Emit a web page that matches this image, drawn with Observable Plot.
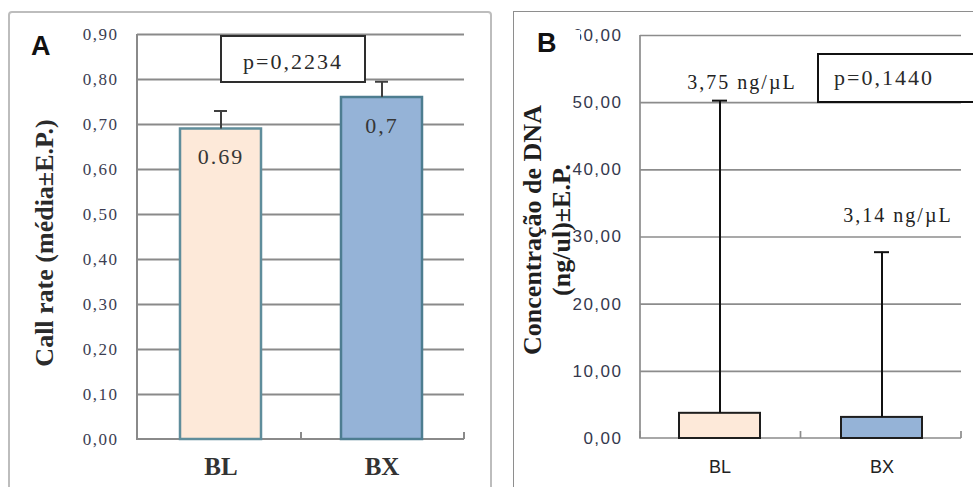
<!DOCTYPE html>
<html>
<head>
<meta charset="utf-8">
<script src="https://cdn.jsdelivr.net/npm/d3@7"></script>
<script src="https://cdn.jsdelivr.net/npm/@observablehq/plot@0.6"></script>
<style>
  body { margin: 0; background: #fff; }
  #chart { position: relative; width: 973px; height: 487px; overflow: hidden; background: #fff; }
  #chart > .panel { position: absolute; top: 0; }
  #panelA { left: 0; }
  #panelB { left: 500px; }
  .frame { position: absolute; box-sizing: border-box; pointer-events: none; }
  #frameA { left: 8px; top: 11px; width: 484px; height: 500px; border: 2px solid #bdbdbd; border-radius: 4px; }
  #frameB { left: 513px; top: 11px; width: 480px; height: 500px; border: 1.5px solid #8e8e8e; }
  .letter { position: absolute; font: bold 27px "Liberation Sans", sans-serif; color: #111; background: #fff; line-height: 1; }
  #letterA { left: 31px; top: 33px; }
  #letterB { left: 532px; top: 30px; width: 48px; height: 34px; box-sizing: border-box; padding-left: 5px; }
  .pbox { position: absolute; box-sizing: border-box; background: #fff; font: 22px "Liberation Serif", serif; letter-spacing: 2px; color: #2a2a2a; white-space: nowrap; }
  #pA { left: 220px; top: 35px; width: 146px; height: 48px; border: 2px solid #2e2e2e; text-align: center; line-height: 50px; }
  #pB { left: 817px; top: 53px; width: 170px; height: 50px; border: 2px solid #111; padding-left: 15px; line-height: 46px; }
  /* serif value / tick text is set wide */
  #chart svg g[font-family="Liberation Serif"]:not([font-weight="bold"]) { letter-spacing: 2px; }
  #chart svg g[font-family="Liberation Serif"][font-size="17"] { letter-spacing: 1.5px; }
  #chart svg g[font-family="Liberation Sans"][font-size="17"] { letter-spacing: 1.5px; }
</style>
</head>
<body>
<div id="chart">
  <div class="panel" id="panelA"></div>
  <div class="panel" id="panelB"></div>
  <div class="frame" id="frameA"></div>
  <div class="frame" id="frameB"></div>
  <div class="letter" id="letterA">A</div>
  <div class="letter" id="letterB">B</div>
  <div class="pbox" id="pA"></div>
  <div class="pbox" id="pB"></div>
</div>
<script>
// Groups compared in both panels
const groups = ["BL", "BX"];

// Panel A: call rate (mean ± SE)
const callRateMean = [0.69, 0.76];
const callRateSE = [0.04, 0.035];
const callRateLabels = ["0.69", "0,7"];
const callRateTicks = [0, 0.1, 0.2, 0.3, 0.4, 0.5, 0.6, 0.7, 0.8, 0.9];
const callRateTitle = "Call rate (média±E.P.)";
const callRateP = "p=0,2234";

// Panel B: DNA concentration (mean ± SE, ng/µL)
const dnaMean = [3.75, 3.14];
const dnaSE = [46.55, 24.6];
const dnaTicks = [0, 10, 20, 30, 40, 50, 60];
const dnaTitle = "Concentração de DNA\n(ng/ul)±E.P.";
const dnaUnit = "ng/µL";
const dnaP = "p=0,1440";

const comma = (d, n = 2) => d.toFixed(n).replace(".", ",");
const barFill = {BL: "#fde9d9", BX: "#95b3d7"};
const barStrokeA = {BL: "#5f8d9b", BX: "#4d7d90"};

const rowsA = groups.map((g, i) => ({group: g, mean: callRateMean[i], se: callRateSE[i], label: callRateLabels[i]}));
const rowsB = groups.map((g, i) => ({group: g, mean: dnaMean[i], se: dnaSE[i], label: `${comma(dnaMean[i])} ${dnaUnit}`}));

// Axis line on the left, baseline at zero, and short ticks at the category boundaries
function axisFrame({tick = 7, stroke = "#8a8a8a", strokeWidth = 2} = {}) {
  return (index, scales, values, dimensions) => {
    const {x, y} = scales;
    const desc = (scales.scales && scales.scales.x) || {};
    const step = typeof x.step === "function" ? x.step() : desc.step;
    const bw = typeof x.bandwidth === "function" ? x.bandwidth() : desc.bandwidth;
    const {width, marginLeft, marginRight, marginTop} = dimensions;
    const left = marginLeft, right = width - marginRight, y0 = y(0);
    const cuts = [left, ...x.domain().slice(1).map(d => x(d) - (step - bw) / 2), right];
    const g = d3.create("svg:g")
      .attr("fill", "none").attr("stroke", stroke).attr("stroke-width", strokeWidth);
    g.append("path").attr("d", `M${left},${marginTop}V${y0}H${right}`);
    for (const c of cuts) {
      g.append("line").attr("x1", c).attr("x2", c).attr("y1", y0).attr("y2", y0 - tick);
    }
    return g.node();
  };
}

const plotA = Plot.plot({
  width: 500, height: 487,
  marginLeft: 137, marginRight: 36, marginTop: 34, marginBottom: 48,
  style: {background: "transparent", overflow: "visible"},
  x: {domain: groups, paddingInner: 0.5, paddingOuter: 0.26, label: null},
  y: {domain: [0, 0.9], label: null},
  marks: [
    Plot.gridY(callRateTicks.filter(d => d > 0), {stroke: "#8a8a8a", strokeOpacity: 1, strokeWidth: 2}),
    Plot.axisY(callRateTicks, {tickSize: 0, tickPadding: 19, tickFormat: d => comma(d), fontSize: 17,
      fontFamily: "Liberation Serif", fill: "#3b3d52", label: null}),
    Plot.axisX({tickSize: 0, tickPadding: 18, fontSize: 25, fontWeight: "bold",
      fontFamily: "Liberation Serif", fill: "#333", label: null}),
    axisFrame({stroke: "#8a8a8a", strokeWidth: 2}),
    Plot.barY(rowsA, {x: "group", y: "mean", fill: d => barFill[d.group], stroke: d => barStrokeA[d.group], strokeWidth: 2.5}),
    Plot.ruleX(rowsA, {x: "group", y1: "mean", y2: d => d.mean + d.se, stroke: "#3f3f3f", strokeWidth: 2}),
    Plot.tickY(rowsA, {x: "group", y: d => d.mean + d.se, insetLeft: 34, insetRight: 34, stroke: "#3f3f3f", strokeWidth: 2}),
    Plot.text(rowsA, {x: "group", y: "mean", text: "label", dy: 28, fontSize: 22,
      fontFamily: "Liberation Serif", fill: "#363636"}),
    Plot.text([callRateTitle], {frameAnchor: "left", textAnchor: "middle", rotate: -90, dx: -93, dy: 6, fontSize: 26,
      fontWeight: "bold", fontFamily: "Liberation Serif", fill: "#2b2b2b"})
  ]
});
document.getElementById("panelA").append(plotA);

const plotB = Plot.plot({
  width: 473, height: 487,
  marginLeft: 140, marginRight: 12, marginTop: 35, marginBottom: 49,
  style: {background: "transparent", overflow: "visible"},
  x: {domain: groups, paddingInner: 0.5, paddingOuter: 0.24, label: null},
  y: {domain: [0, 60], label: null},
  marks: [
    Plot.gridY(dnaTicks.filter(d => d > 0), {stroke: "#8c8c8c", strokeOpacity: 1, strokeWidth: 1.7}),
    Plot.axisY(dnaTicks, {tickSize: 0, tickPadding: 18, tickFormat: d => comma(d), fontSize: 17,
      fontFamily: "Liberation Sans", fill: "#35384d", label: null}),
    Plot.axisX({tickSize: 0, tickPadding: 22, fontSize: 18,
      fontFamily: "Liberation Sans", fill: "#222", label: null}),
    axisFrame({stroke: "#8c8c8c", strokeWidth: 1.7}),
    Plot.barY(rowsB, {x: "group", y: "mean", fill: d => barFill[d.group], stroke: "#1e1e1e", strokeWidth: 2}),
    Plot.ruleX(rowsB, {x: "group", y1: "mean", y2: d => d.mean + d.se, stroke: "#111", strokeWidth: 2}),
    Plot.tickY(rowsB, {x: "group", y: d => d.mean + d.se, insetLeft: 33, insetRight: 33, stroke: "#111", strokeWidth: 2}),
    Plot.text(rowsB.filter(d => d.group === "BL"), {x: "group", y: d => d.mean + d.se, text: "label",
      dx: 22, dy: -18, fontSize: 20, fontFamily: "Liberation Serif", fill: "#222"}),
    Plot.text(rowsB.filter(d => d.group === "BX"), {x: "group", y: d => d.mean + d.se, text: "label",
      dx: 16, dy: -37, fontSize: 20, fontFamily: "Liberation Serif", fill: "#222"}),
    Plot.text([dnaTitle], {frameAnchor: "left", textAnchor: "middle", rotate: -90, dx: -94, dy: -7, fontSize: 26, lineHeight: 1.12,
      fontWeight: "bold", fontFamily: "Liberation Serif", fill: "#1f1f1f"})
  ]
});
document.getElementById("panelB").append(plotB);

document.getElementById("pA").textContent = callRateP;
document.getElementById("pB").textContent = dnaP;
</script>
</body>
</html>
